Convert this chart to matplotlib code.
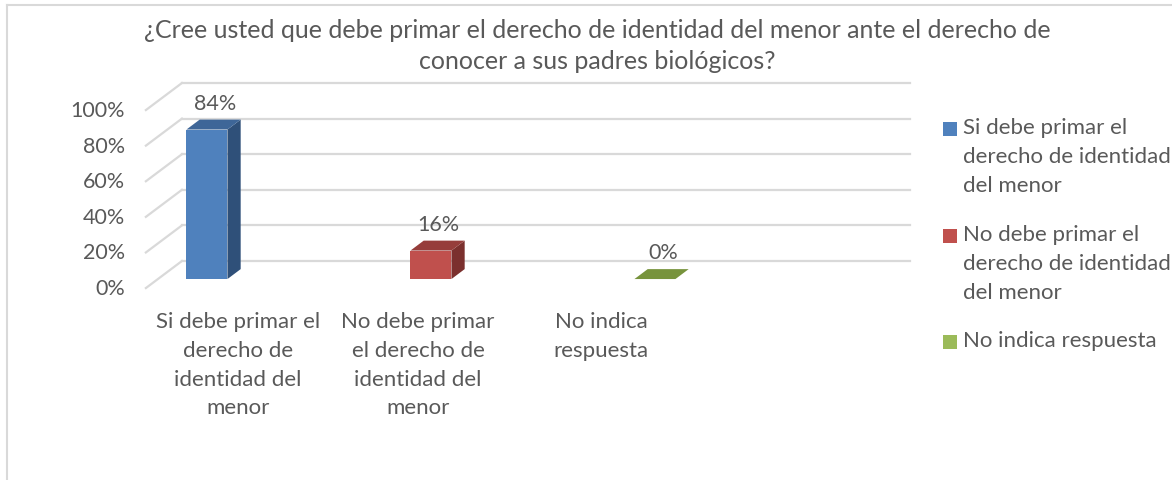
import matplotlib
matplotlib.use('Agg')
import matplotlib.pyplot as plt
from matplotlib.patches import Polygon, Rectangle
from matplotlib.lines import Line2D

plt.rcParams['font.family'] = ['Lato', 'DejaVu Sans']

# data
title = ('¿Cree usted que debe primar el derecho de identidad del menor ante el derecho de\n'
         'conocer a sus padres biológicos?')
categories = ['Si debe primar el\nderecho de\nidentidad del\nmenor',
              'No debe primar\nel derecho de\nidentidad del\nmenor',
              'No indica\nrespuesta']
legend_labels = ['Si debe primar el\nderecho de identidad\ndel menor',
                 'No debe primar el\nderecho de identidad\ndel menor',
                 'No indica respuesta']
values = [84, 16, 0]
value_labels = ['84%', '16%', '0%']
y_ticks = [0, 20, 40, 60, 80, 100]
y_tick_labels = ['0%', '20%', '40%', '60%', '80%', '100%']

# colours
front_colors = ['#4F81BD', '#C0504D', '#9BBB59']
top_colors = ['#3E6698', '#963D3B', '#77933C']
side_colors = ['#2F5079', '#7B302E', '#5E752F']
legend_colors = ['#4F81BD', '#C0504D', '#9BBB59']
text_color = '#595959'
grid_color = '#D9D9D9'

W, H = 1172, 481
fig = plt.figure(figsize=(W / 100, H / 100), dpi=100)
ax = fig.add_axes([0, 0, 1, 1])
# 1 category = 224 px, 1 % = 1.78 px, back-wall origin at pixel (231, 262)
ax.set_xlim(-231 / 224, (W - 231) / 224)
ax.set_ylim((262 - H) / 1.78, 262 / 1.78)
ax.axis('off')

# depth projection (d=0 back wall, d=1 front edge of floor)
DX, DY = -0.161, -15.2
def proj(x, y, d):
    return (x + DX * d, y + DY * d)

wall_left, wall_right = -0.219, 3.03

# gridlines: back wall + left side diagonals
for k, lbl in zip(y_ticks, y_tick_labels):
    ax.plot([wall_left, wall_right], [k, k], color=grid_color, lw=1.6, zorder=1)
    fx, fy = proj(wall_left, k, 1)
    ax.plot([wall_left, fx], [k, fy], color=grid_color, lw=1.6, zorder=1)
    ax.annotate(lbl, xy=(fx, fy), xytext=(-21, 0), textcoords='offset pixels',
                ha='right', va='center', fontsize=15.5, color=text_color)

# 3D bars
D_FRONT, D_BACK = 0.667, 0.30
hw = 0.0915
for i, v in enumerate(values):
    fl = proj(i - hw, 0, D_FRONT)
    fr = proj(i + hw, 0, D_FRONT)
    ftl = proj(i - hw, v, D_FRONT)
    ftr = proj(i + hw, v, D_FRONT)
    btl = proj(i - hw, v, D_BACK)
    btr = proj(i + hw, v, D_BACK)
    br = proj(i + hw, 0, D_BACK)
    ax.add_patch(Polygon([fr, br, btr, ftr], closed=True, facecolor=side_colors[i],
                         edgecolor='none', zorder=3))
    ax.add_patch(Polygon([ftl, ftr, btr, btl], closed=True, facecolor=top_colors[i],
                         edgecolor='none', zorder=4))
    if v > 0:
        ax.add_patch(Polygon([fl, fr, ftr, ftl], closed=True, facecolor=front_colors[i],
                             edgecolor='none', zorder=4))
    lx, ly = proj(i, v, D_BACK)
    ax.annotate(value_labels[i], xy=(i + DX * 0.45, ly), xytext=(0, 7),
                textcoords='offset pixels', ha='center', va='bottom',
                fontsize=15.5, color=text_color, zorder=5)

# category labels
cat_px = [238, 418, 601]
for px, lbl in zip(cat_px, categories):
    fig.text(px / W, 1 - 312 / H, lbl, ha='center', va='top', fontsize=16,
             color=text_color, linespacing=1.55)

# title
fig.text(597 / W, 1 - 19 / H, title, ha='center', va='top', fontsize=18,
         color=text_color, linespacing=1.4)

# legend
legend_y = [130, 237, 343]
for y, lbl, c in zip(legend_y, legend_labels, legend_colors):
    fig.patches.append(Rectangle((943 / W, 1 - (y + 7) / H), 14 / W, 14 / H,
                                 transform=fig.transFigure, facecolor=c,
                                 edgecolor='none'))
    fig.text(963 / W, 1 - (y - 12) / H, lbl, ha='left', va='top', fontsize=16,
             color=text_color, linespacing=1.55)

# chart border (top and left visible)
fig.lines.append(Line2D([7 / W, 1], [1 - 6 / H, 1 - 6 / H], transform=fig.transFigure,
                        color=grid_color, lw=1.5))
fig.lines.append(Line2D([7 / W, 7 / W], [0, 1 - 6 / H], transform=fig.transFigure,
                        color=grid_color, lw=1.5))

fig.savefig('out.png', dpi=100, facecolor='white')
